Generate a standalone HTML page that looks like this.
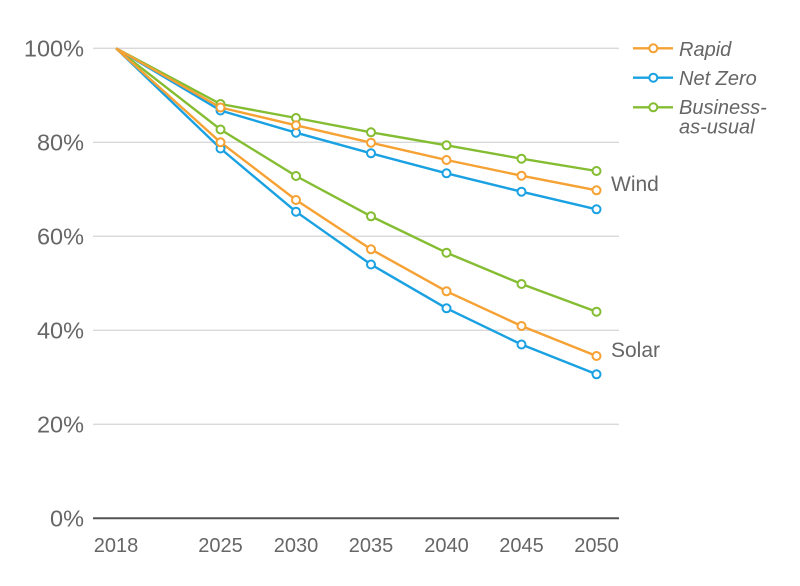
<!DOCTYPE html>
<html>
<head>
<meta charset="utf-8">
<style>
html,body{margin:0;padding:0;background:#fff;}
svg{display:block;}
text{font-family:"Liberation Sans",sans-serif;fill:#666;}
</style>
</head>
<body>
<svg width="800" height="586" viewBox="0 0 800 586" xmlns="http://www.w3.org/2000/svg">
  <!-- gridlines -->
  <g stroke="#d9d9d9" stroke-width="1.3">
    <line x1="93" y1="48.3" x2="619" y2="48.3"/>
    <line x1="93" y1="142.3" x2="619" y2="142.3"/>
    <line x1="93" y1="236.3" x2="619" y2="236.3"/>
    <line x1="93" y1="330.3" x2="619" y2="330.3"/>
    <line x1="93" y1="424.3" x2="619" y2="424.3"/>
  </g>
  <line x1="93" y1="518.3" x2="619" y2="518.3" stroke="#555" stroke-width="2"/>

  <!-- y labels -->
  <g font-size="23.5" text-anchor="end">
    <text x="84" y="56.5">100%</text>
    <text x="84" y="150.5">80%</text>
    <text x="84" y="244.5">60%</text>
    <text x="84" y="338.5">40%</text>
    <text x="84" y="432.5">20%</text>
    <text x="84" y="526.5">0%</text>
  </g>

  <!-- x labels -->
  <g font-size="20" text-anchor="middle">
    <text x="116" y="552">2018</text>
    <text x="220.5" y="552">2025</text>
    <text x="296" y="552">2030</text>
    <text x="371" y="552">2035</text>
    <text x="446.5" y="552">2040</text>
    <text x="521.5" y="552">2045</text>
    <text x="596.5" y="552">2050</text>
  </g>

  <g fill="none" stroke-width="2.4" stroke-linejoin="round">
    <!-- BAU green -->
    <polyline stroke="#84bd32" points="116,48.3 220.5,104 296,118 371,132.3 446.5,145.3 521.5,158.7 596.5,171"/>
    <polyline stroke="#84bd32" points="116,48.3 220.5,129.5 296,176 371,216.3 446.5,252.7 521.5,284 596.5,311.7"/>
    <!-- Net Zero blue -->
    <polyline stroke="#1aa1e2" points="116,48.3 220.5,110.5 296,132.7 371,153.3 446.5,173.3 521.5,191.7 596.5,209.3"/>
    <polyline stroke="#1aa1e2" points="116,48.3 220.5,148.5 296,211.7 371,264.5 446.5,308.3 521.5,344.5 596.5,374.3"/>
    <!-- Rapid orange -->
    <polyline stroke="#f6a133" points="116,48.3 220.5,107.5 296,125.3 371,142.7 446.5,160 521.5,175.7 596.5,190.3"/>
    <polyline stroke="#f6a133" points="116,48.3 220.5,142.3 296,200 371,249.3 446.5,291.3 521.5,326 596.5,356"/>
  </g>

  <g fill="#fff" stroke-width="2">
    <g stroke="#84bd32">
      <circle cx="220.5" cy="104" r="4"/><circle cx="296" cy="118" r="4"/><circle cx="371" cy="132.3" r="4"/><circle cx="446.5" cy="145.3" r="4"/><circle cx="521.5" cy="158.7" r="4"/><circle cx="596.5" cy="171" r="4"/>
      <circle cx="220.5" cy="129.5" r="4"/><circle cx="296" cy="176" r="4"/><circle cx="371" cy="216.3" r="4"/><circle cx="446.5" cy="252.7" r="4"/><circle cx="521.5" cy="284" r="4"/><circle cx="596.5" cy="311.7" r="4"/>
    </g>
    <g stroke="#1aa1e2">
      <circle cx="220.5" cy="110.5" r="4"/><circle cx="296" cy="132.7" r="4"/><circle cx="371" cy="153.3" r="4"/><circle cx="446.5" cy="173.3" r="4"/><circle cx="521.5" cy="191.7" r="4"/><circle cx="596.5" cy="209.3" r="4"/>
      <circle cx="220.5" cy="148.5" r="4"/><circle cx="296" cy="211.7" r="4"/><circle cx="371" cy="264.5" r="4"/><circle cx="446.5" cy="308.3" r="4"/><circle cx="521.5" cy="344.5" r="4"/><circle cx="596.5" cy="374.3" r="4"/>
    </g>
    <g stroke="#f6a133">
      <circle cx="220.5" cy="107.5" r="4"/><circle cx="296" cy="125.3" r="4"/><circle cx="371" cy="142.7" r="4"/><circle cx="446.5" cy="160" r="4"/><circle cx="521.5" cy="175.7" r="4"/><circle cx="596.5" cy="190.3" r="4"/>
      <circle cx="220.5" cy="142.3" r="4"/><circle cx="296" cy="200" r="4"/><circle cx="371" cy="249.3" r="4"/><circle cx="446.5" cy="291.3" r="4"/><circle cx="521.5" cy="326" r="4"/><circle cx="596.5" cy="356" r="4"/>
    </g>
  </g>

  <!-- series labels -->
  <text x="611" y="191" font-size="21">Wind</text>
  <text x="611" y="357" font-size="21">Solar</text>

  <!-- legend -->
  <g stroke-width="2.4">
    <line x1="633" y1="48.3" x2="673" y2="48.3" stroke="#f6a133"/>
    <circle cx="653.3" cy="48.3" r="4" fill="#fff" stroke="#f6a133" stroke-width="2"/>
    <line x1="633" y1="77.7" x2="673" y2="77.7" stroke="#1aa1e2"/>
    <circle cx="653.3" cy="77.7" r="4" fill="#fff" stroke="#1aa1e2" stroke-width="2"/>
    <line x1="633" y1="107.3" x2="673" y2="107.3" stroke="#84bd32"/>
    <circle cx="653.3" cy="107.3" r="4" fill="#fff" stroke="#84bd32" stroke-width="2"/>
  </g>
  <g font-size="20" font-style="italic">
    <text x="679" y="56">Rapid</text>
    <text x="679" y="85">Net Zero</text>
    <text x="679" y="114">Business-</text>
    <text x="679" y="133.5">as-usual</text>
  </g>
</svg>
</body>
</html>
